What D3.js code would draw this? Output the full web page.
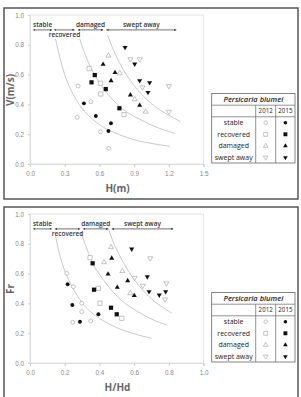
<!DOCTYPE html>
<html><head><meta charset="utf-8">
<script src="https://cdn.jsdelivr.net/npm/d3@7"></script>
<style>body{margin:0;background:#fff}svg{display:block;font-family:'Open Sans',sans-serif}</style>
</head><body><div class="let"></div>
<script>
let hTicks=[0.0,0.3,0.6,0.9,1.2,1.5]
let hdTicks=[0.0,0.2,0.4,0.6,0.8,1.0]
let yTicks=[0.0,0.2,0.4,0.6,0.8,1.0]
let classes=['stable','recovered','damaged','swept away']
let years=['2012','2015']
let legendTitle='Persicaria blumei'

// top panel: H(m) vs V(m/s)
let hvStable12=[[0.416,0.523],[0.408,0.313],[0.526,0.418],[0.609,0.217],[0.681,0.105]]
let hvStable15=[[0.466,0.407],[0.569,0.322],[0.70,0.273],[0.678,0.221]]
let hvRecov12=[[0.511,0.640],[0.609,0.542],[0.612,0.470],[0.813,0.331]]
let hvRecov15=[[0.560,0.597],[0.532,0.548],[0.655,0.503],[0.773,0.374]]
let hvDamag12=[[0.678,0.727],[0.776,0.609],[0.905,0.434],[1.0,0.351]]
let hvDamag15=[[0.632,0.669],[0.735,0.613],[0.701,0.559],[0.868,0.463],[0.948,0.394]]
let hvSwept12=[[0.868,0.703],[0.948,0.703],[0.972,0.515],[1.201,0.523],[1.201,0.351]]
let hvSwept15=[[0.822,0.783],[0.905,0.671],[0.948,0.559],[1.034,0.546],[1.02,0.481]]
let hvCurve1=[[0.22,0.84],[0.3,0.6],[0.4,0.43],[0.5,0.33],[0.6,0.265],[0.7,0.22],[0.85,0.175],[1.0,0.145],[1.21,0.118]]
let hvCurve2=[[0.43,0.84],[0.5,0.69],[0.6,0.545],[0.7,0.445],[0.8,0.37],[0.9,0.32],[1.0,0.28],[1.1,0.245],[1.25,0.206]]
let hvCurve3=[[0.67,0.866],[0.75,0.715],[0.85,0.58],[0.95,0.48],[1.05,0.405],[1.15,0.35],[1.3,0.284]]
let hvRanges=[[0.028,0.19],[0.21,0.385],[0.415,0.632],[0.661,1.265]]

// bottom panel: H/Hd vs Fr
let frStable12=[[0.212,0.602],[0.250,0.512],[0.298,0.401],[0.298,0.344],[0.246,0.273],[0.350,0.282]]
let frStable15=[[0.217,0.528],[0.244,0.389],[0.288,0.277],[0.394,0.327]]
let frRecov12=[[0.346,0.707],[0.394,0.501],[0.403,0.401],[0.529,0.30]]
let frRecov15=[[0.361,0.669],[0.369,0.492],[0.467,0.371],[0.50,0.327]]
let frDamag12=[[0.467,0.777],[0.427,0.676],[0.532,0.617],[0.578,0.468]]
let frDamag15=[[0.471,0.703],[0.45,0.597],[0.563,0.552],[0.503,0.508],[0.601,0.452]]
let frSwept12=[[0.693,0.703],[0.603,0.572],[0.65,0.519],[0.786,0.535],[0.778,0.428]]
let frSwept15=[[0.586,0.765],[0.676,0.579],[0.686,0.479],[0.745,0.456],[0.782,0.479]]
let frCurve1=[[0.148,0.848],[0.2,0.62],[0.3,0.405],[0.4,0.3],[0.5,0.237],[0.6,0.196],[0.7,0.166]]
let frCurve2=[[0.294,0.874],[0.35,0.7],[0.4,0.595],[0.5,0.45],[0.6,0.36],[0.7,0.295],[0.788,0.255]]
let frCurve3=[[0.451,0.904],[0.5,0.76],[0.6,0.56],[0.7,0.432],[0.75,0.385],[0.817,0.334]]
let frRanges=[[0.019,0.125],[0.144,0.288],[0.307,0.451],[0.471,0.826]]

let w=301,h=397
let svg=d3.select('.let').append('svg').attr('width',w).attr('height',h)
let defs=svg.append('defs')
defs.append('marker').attr('id','arr').attr('viewBox','0 0 6 6').attr('refX',6).attr('refY',3)
  .attr('markerWidth',3).attr('markerHeight',3).attr('orient','auto-start-reverse')
  .append('path').attr('d','M0,0L6,3L0,6Z').attr('fill','#333')

let shapes=[d3.symbolCircle,d3.symbolSquare,d3.symbolTriangle,d3.symbolTriangle]
let sizes=[12,18,11,11]
function symPath(i,k){return d3.symbol().type(shapes[i]).size(sizes[i]*(k||1))()}

function panel(off,xMax,xTicks,sets,curves,ranges,xTitle,yTitle){
  let g=svg.append('g').attr('transform','translate(0,'+off+')')
  g.append('rect').attr('x',4).attr('y',8).attr('width',294).attr('height',off?205:191)
    .attr('fill','none').attr('stroke','#555').attr('stroke-width',1.5)
  let x=d3.scaleLinear().domain([0,xMax]).range([30,203.5])
  let y=d3.scaleLinear().domain([0,1]).range([164,15])
  g.append('rect').attr('x',30).attr('y',15).attr('width',173.5).attr('height',149)
    .attr('fill','none').attr('stroke','#ddd').attr('stroke-width',0.8)
  let xa=g.append('g').attr('transform','translate(0,164)')
    .call(d3.axisBottom(x).tickValues(xTicks).tickFormat(d3.format('.1f')).tickSize(3).tickPadding(5))
  let ya=g.append('g').attr('transform','translate(30,0)')
    .call(d3.axisLeft(y).tickValues(yTicks).tickFormat(d3.format('.1f')).tickSize(2).tickPadding(4))
  for(let a of [xa,ya]){
    a.select('.domain').attr('stroke','#ddd')
    a.selectAll('line').attr('stroke','#ccc')
    a.selectAll('text').attr('fill','#888').style('font-size','6.3px')
  }
  let line=d3.line().x(d=>x(d[0])).y(d=>y(d[1])).curve(d3.curveNatural)
  g.selectAll('.crv').data(curves).enter().append('path').attr('d',line)
    .attr('fill','none').attr('stroke','#bbb').attr('stroke-width',0.8)
  // range brackets
  g.selectAll('.rng').data(ranges).enter().append('line')
    .attr('x1',d=>x(d[0])).attr('x2',d=>x(d[1])).attr('y1',y(0.9)).attr('y2',y(0.9))
    .attr('stroke','#333').attr('stroke-width',0.7)
    .attr('marker-start','url(#arr)').attr('marker-end','url(#arr)')
  g.selectAll('.rlab').data(ranges).enter().append('text')
    .attr('x',d=>x((d[0]+d[1])/2)).attr('y',(d,i)=>i==1?y(0.9)+7:y(0.9)-3)
    .attr('text-anchor','middle').attr('fill','#333').style('font-size','6.5px').style('font-weight','600')
    .text((d,i)=>classes[i])
  sets.forEach((s,k)=>{
    let ci=Math.floor(k/2),filled=k%2==1
    g.selectAll('.s'+k).data(s).enter().append('path')
      .attr('d',symPath(ci))
      .attr('transform',d=>'translate('+x(d[0])+','+y(d[1])+')'+(ci==3?' rotate(180)':''))
      .attr('fill',filled?'#111':'#fff').attr('stroke',filled?'none':'#aaa').attr('stroke-width',0.7)
  })
  g.append('text').attr('x',117.5).attr('y',192).attr('text-anchor','middle')
    .attr('fill','#666').style('font-size','10px').style('font-weight','bold').text(xTitle)
  g.append('text').attr('transform','translate(13.5,90) rotate(-90)').attr('text-anchor','middle')
    .attr('fill','#666').style('font-size','10px').style('font-weight','bold').text(yTitle)
  // legend table
  let lg=g.append('g')
  let lx=211.7,lt=93.5,lw=83.3,lh=69.5
  lg.append('rect').attr('x',lx).attr('y',lt).attr('width',lw).attr('height',lh)
    .attr('fill','#fff').attr('stroke','#666').attr('stroke-width',0.8)
  lg.selectAll('.hl').data([11.7,23.3]).enter().append('line')
    .attr('x1',lx).attr('x2',lx+lw).attr('y1',d=>lt+d).attr('y2',d=>lt+d).attr('stroke','#666').attr('stroke-width',0.7)
  lg.selectAll('.vl').data([255.7,275.7]).enter().append('line')
    .attr('x1',d=>d).attr('x2',d=>d).attr('y1',lt+11.7).attr('y2',lt+lh).attr('stroke','#666').attr('stroke-width',0.7)
  lg.append('text').attr('x',lx+lw/2).attr('y',lt+8.8).attr('text-anchor','middle')
    .attr('fill','#222').style('font-size','7.5px').style('font-style','italic').style('font-weight','600').text(legendTitle)
  lg.selectAll('.yr').data(years).enter().append('text')
    .attr('x',(d,i)=>i?285.4:265.7).attr('y',lt+19.8).attr('text-anchor','middle')
    .attr('fill','#222').style('font-size','6.2px').text(d=>d)
  classes.forEach((c,i)=>{
    let cy=lt+29.2+i*11.6
    lg.append('text').attr('x',233.7).attr('y',cy+2.4).attr('text-anchor','middle')
      .attr('fill','#222').style('font-size','7px').text(c)
    for(let j=0;j<2;j++){
      lg.append('path').attr('d',symPath(i,0.85))
        .attr('transform','translate('+(j?285.4:265.7)+','+cy+')'+(i==3?' rotate(180)':''))
        .attr('fill',j?'#111':'#fff').attr('stroke',j?'none':'#aaa').attr('stroke-width',0.7)
    }
  })
}

panel(0,1.5,hTicks,[hvStable12,hvStable15,hvRecov12,hvRecov15,hvDamag12,hvDamag15,hvSwept12,hvSwept15],
  [hvCurve1,hvCurve2,hvCurve3],hvRanges,'H(m)','V(m/s)')
panel(199,1.0,hdTicks,[frStable12,frStable15,frRecov12,frRecov15,frDamag12,frDamag15,frSwept12,frSwept15],
  [frCurve1,frCurve2,frCurve3],frRanges,'H/Hd','Fr')
</script>
</body></html>
